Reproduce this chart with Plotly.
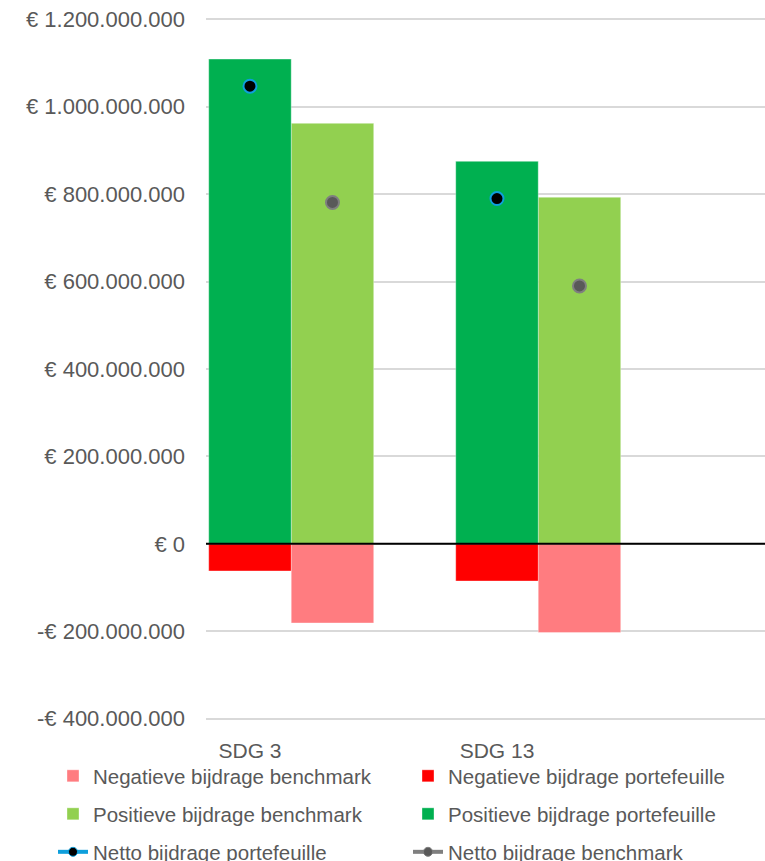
import plotly.graph_objects as go

categories = ["SDG 3", "SDG 13"]
pos_portfolio = [1_109_000_000, 875_000_000]
pos_benchmark = [962_000_000, 793_000_000]
neg_portfolio = [-62_000_000, -85_000_000]
neg_benchmark = [-181_000_000, -203_000_000]
net_portfolio = [1_047_000_000, 790_000_000]
net_benchmark = [781_000_000, 590_000_000]
y_ticks = [-400_000_000, -200_000_000, 0, 200_000_000, 400_000_000,
           600_000_000, 800_000_000, 1_000_000_000, 1_200_000_000]


def eur(v):
    s = f"{abs(int(v)):,}".replace(",", ".")
    return ("-€ " if v < 0 else "€ ") + s


C_POS_P = "#00B050"
C_POS_B = "#92D050"
C_NEG_P = "#FF0000"
C_NEG_B = "#FF7C80"
C_NET_P = "#0E9FDC"
C_NET_B = "#7F7F7F"
TXT = "#595959"
FONT = "Liberation Sans, Arial, sans-serif"

W, H = 765, 861
BW = 0.334  # bar width in category units
idx = list(range(len(categories)))
idx_b = [i + BW for i in idx]

fig = go.Figure()
edge = dict(color="rgba(255,255,255,0.35)", width=1)

fig.add_trace(go.Bar(x=idx, y=neg_benchmark, width=BW, offset=BW / 2,
                     marker=dict(color=C_NEG_B, line=edge),
                     name="Negatieve bijdrage benchmark", legend="legend"))
fig.add_trace(go.Bar(x=idx, y=neg_portfolio, width=BW, offset=-BW / 2,
                     marker=dict(color=C_NEG_P, line=edge),
                     name="Negatieve bijdrage portefeuille", legend="legend2"))
fig.add_trace(go.Bar(x=idx, y=pos_benchmark, width=BW, offset=BW / 2,
                     marker=dict(color=C_POS_B, line=edge),
                     name="Positieve bijdrage benchmark", legend="legend3"))
fig.add_trace(go.Bar(x=idx, y=pos_portfolio, width=BW, offset=-BW / 2,
                     marker=dict(color=C_POS_P, line=edge),
                     name="Positieve bijdrage portefeuille", legend="legend4"))

# net markers (points only in the plot)
fig.add_trace(go.Scatter(x=idx, y=net_portfolio, mode="markers", showlegend=False,
                         marker=dict(size=13, color="black",
                                     line=dict(color=C_NET_P, width=2)),
                         name="Netto bijdrage portefeuille"))
fig.add_trace(go.Scatter(x=idx_b, y=net_benchmark, mode="markers", showlegend=False,
                         marker=dict(size=13, color="#595959",
                                     line=dict(color=C_NET_B, width=2)),
                         name="Netto bijdrage benchmark"))
# legend entries for the net series (line + marker)
fig.add_trace(go.Scatter(x=[None], y=[None], mode="lines+markers",
                         line=dict(color=C_NET_P, width=4),
                         marker=dict(size=9, color="black", line=dict(color=C_NET_P, width=1)),
                         name="Netto bijdrage portefeuille", legend="legend5"))
fig.add_trace(go.Scatter(x=[None], y=[None], mode="lines+markers",
                         line=dict(color=C_NET_B, width=4),
                         marker=dict(size=9, color="#595959", line=dict(color=C_NET_B, width=1)),
                         name="Netto bijdrage benchmark", legend="legend6"))

# zero line above bars
fig.add_shape(type="line", xref="paper", x0=0, x1=1, yref="y", y0=0, y1=0,
              line=dict(color="black", width=2), layer="above")


def leg(col_text_x, row_y):
    return dict(orientation="h", xref="container", yref="container",
                x=(col_text_x - 40) / W, xanchor="left",
                y=1 - row_y / H, yanchor="middle",
                font=dict(family=FONT, size=20.5, color=TXT),
                bgcolor="rgba(0,0,0,0)", borderwidth=0)


fig.update_layout(
    width=W, height=H,
    margin=dict(l=206, r=0, t=18, b=141, autoexpand=False),
    paper_bgcolor="white", plot_bgcolor="white",
    barmode="overlay",
    font=dict(family=FONT, color=TXT),
    legend=leg(93, 776), legend2=leg(448, 776),
    legend3=leg(93, 814), legend4=leg(448, 814),
    legend5=leg(93, 852), legend6=leg(448, 852),
    xaxis=dict(range=[-0.178, 2.085], tickvals=idx, ticktext=categories,
               showgrid=False, zeroline=False, showline=False, ticks="",
               tickfont=dict(family=FONT, size=21, color=TXT),
               ticklabelstandoff=16, automargin=False),
    yaxis=dict(range=[-403_000_000, 1_203_000_000], tickvals=y_ticks,
               ticktext=[eur(v) for v in y_ticks],
               showgrid=True, gridcolor="#D9D9D9", gridwidth=1.5,
               zeroline=False, showline=False, ticks="",
               tickfont=dict(family=FONT, size=22, color=TXT),
               ticklabelstandoff=20, automargin=False),
)

fig.write_html("out.html", config={"displayModeBar": False},
               post_script="document.body.style.margin='0';")
